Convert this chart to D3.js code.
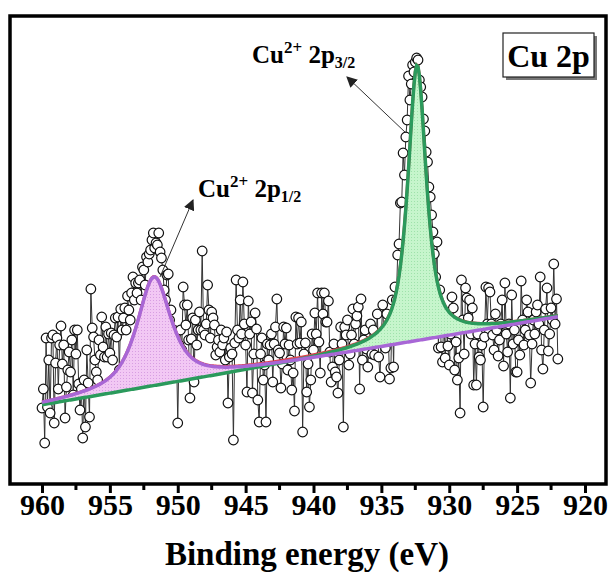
<!DOCTYPE html>
<html>
<head>
<meta charset="utf-8">
<script src="https://cdn.jsdelivr.net/npm/d3@7/dist/d3.min.js"></script>
<style>
  body { margin: 0; background: #fff; }
  text { font-family: "Liberation Serif", "Times New Roman", serif; font-weight: bold; }
</style>
</head>
<body>
<script>
const WIDTH = 611
const HEIGHT = 576

// energie de depart / pas de 0.1 eV
const startEnergy = 960
const stepEnergy = 0.1

// intensite (u.a.), 960.0 -> 922.0 eV
const intensity = [
  76, 95, 41, 146, 77, 124, 71, 146, 149, 61,
  121, 146, 95, 139, 158, 120, 139, 66, 97, 114,
  132, 112, 144, 89, 154, 130, 154, 100, 74, 95,
  46, 104, 57, 134, 101, 67, 195, 156, 147, 124,
  112, 104, 144, 129, 167, 137, 127, 157, 127, 150,
  131, 151, 124, 149, 166, 147, 167, 114, 175, 154,
  166, 176, 154, 188, 174, 164, 191, 207, 184, 201,
  191, 201, 204, 184, 217, 214, 199, 227, 222, 230,
  234, 244, 251, 236, 241, 239, 251, 232, 226, 214,
  194, 184, 209, 210, 164, 174, 144, 154, 129, 139,
  61, 139, 154, 134, 197, 179, 159, 179, 144, 86,
  145, 166, 102, 164, 139, 154, 172, 154, 233, 154,
  149, 160, 199, 174, 146, 172, 166, 159, 129, 137,
  144, 132, 154, 139, 146, 124, 152, 81, 127, 136,
  130, 44, 141, 204, 154, 146, 184, 150, 202, 160,
  139, 92, 183, 150, 162, 91, 130, 171, 155, 84,
  62, 130, 146, 104, 119, 62, 140, 124, 139, 150,
  102, 140, 157, 185, 134, 131, 96, 120, 157, 140,
  156, 114, 139, 124, 94, 111, 73, 167, 140, 166,
  141, 162, 52, 130, 141, 92, 120, 77, 104, 150,
  134, 171, 150, 191, 142, 111, 191, 170, 191, 162,
  162, 183, 132, 102, 117, 140, 112, 107, 91, 124,
  157, 140, 57, 157, 149, 164, 119, 130, 149, 175,
  140, 160, 168, 177, 95, 185, 124, 144, 154, 135,
  117, 140, 160, 130, 154, 129, 144, 170, 127, 107,
  150, 179, 140, 136, 170, 154, 105, 116, 184, 117,
  197, 184, 229, 240, 281, 282, 331, 309, 347, 364,
  408, 384, 400, 419, 412, 422, 426, 424, 404, 397,
  387, 365, 353, 332, 322, 297, 287, 269, 252, 230,
  207, 242, 136, 194, 137, 122, 170, 126, 160, 138,
  119, 150, 187, 176, 114, 142, 104, 126, 71, 204,
  164, 130, 196, 186, 166, 184, 150, 176, 99, 140,
  99, 150, 127, 124, 139, 77, 147, 197, 160, 196,
  192, 160, 149, 134, 170, 154, 128, 144, 160, 184,
  118, 201, 150, 132, 160, 86, 189, 140, 154, 112,
  112, 144, 129, 203, 164, 139, 154, 184, 172, 149,
  101, 140, 164, 150, 172, 179, 160, 207, 134, 115,
  154, 175, 196, 133, 150, 176, 164, 220, 160, 185,
  125
]

// fond lineaire : valeur a 960 et a 922
const baseEnergy = [960, 922]
const baseLevel = [79, 167]

// pics ajustes : 2p1/2 puis 2p3/2
const peakNames = ["2p1/2", "2p3/2"]
const peakCenter = [951.75, 932.37]
const peakHeight = [109, 276]
const peakFwhm = [3.0, 1.62]

const xTicks = [960, 955, 950, 945, 940, 935, 930, 925, 920]

const data = intensity.map((v, i) => ({ e: +(startEnergy - i * stepEnergy).toFixed(1), v: v }))

const x = d3.scaleLinear().domain([960, 920]).range([42, 585])
const y = d3.scaleLinear().domain([0, 468]).range([484, 16])

const svg = d3.select("body")
    .append("svg")
    .attr("width", WIDTH)
    .attr("height", HEIGHT)

// motif pointille des aires
const defs = svg.append("defs")
function motif(id, fond, point) {
    const p = defs.append("pattern")
        .attr("id", id)
        .attr("width", 3).attr("height", 3)
        .attr("patternUnits", "userSpaceOnUse")
    p.append("rect").attr("width", 3).attr("height", 3).attr("fill", fond)
    p.append("rect").attr("width", 1).attr("height", 1).attr("fill", point)
}
motif("rose", "#f2c8f4", "#d79ee2")
motif("vert", "#c6f5cc", "#9fe2ab")

defs.append("marker")
    .attr("id", "fleche")
    .attr("viewBox", "0 0 10 10")
    .attr("refX", 9).attr("refY", 5)
    .attr("markerWidth", 11).attr("markerHeight", 11)
    .attr("markerUnits", "userSpaceOnUse")
    .attr("orient", "auto")
    .append("path")
    .attr("d", "M0,0 L10,5 L0,10 z")
    .attr("fill", "#222")

function fond(e) {
    const t = (e - baseEnergy[0]) / (baseEnergy[1] - baseEnergy[0])
    return baseLevel[0] + t * (baseLevel[1] - baseLevel[0])
}
function pic(e, k) {
    const d = (e - peakCenter[k]) / (peakFwhm[k] / 2)
    const lor = 1 / (1 + d * d)
    const gau = Math.exp(-Math.LN2 * d * d)
    return peakHeight[k] * (0.8 * lor + 0.2 * gau)
}

// grille fine pour les courbes du modele
const grille = d3.range(9600, 9219, -1).map(d => d / 10)

// donnees : lignes + cercles
const gData = svg.append("g")
gData.append("path")
    .datum(data)
    .attr("fill", "none")
    .attr("stroke", "#333")
    .attr("stroke-width", 1)
    .attr("d", d3.line().x(d => x(d.e)).y(d => y(d.v)))

gData.selectAll("circle")
    .data(data)
    .enter()
    .append("circle")
    .attr("cx", d => x(d.e))
    .attr("cy", d => y(d.v))
    .attr("r", 4.8)
    .attr("fill", "#fff")
    .attr("stroke", "#111")
    .attr("stroke-width", 1.2)

// aires des pics
const gFit = svg.append("g")
const couleurs = ["#a867d6", "#2b9a5c"]
const motifs = ["url(#rose)", "url(#vert)"]

;[0, 1].forEach(k => {
    gFit.append("path")
        .datum(grille)
        .attr("fill", motifs[k])
        .attr("stroke", "none")
        .attr("d", d3.area()
            .x(e => x(e))
            .y0(e => y(fond(e)))
            .y1(e => y(fond(e) + pic(e, k))))
})

// enveloppe (rouge)
gFit.append("path")
    .datum(grille)
    .attr("fill", "none")
    .attr("stroke", "#e0404c")
    .attr("stroke-width", 3)
    .attr("d", d3.line().x(e => x(e)).y(e => y(fond(e) + pic(e, 0) + pic(e, 1))))

// courbes de chaque pic (vert puis violet)
;[1, 0].forEach(k => {
    gFit.append("path")
        .datum(grille)
        .attr("fill", "none")
        .attr("stroke", couleurs[k])
        .attr("stroke-width", 3.5)
        .attr("d", d3.line().x(e => x(e)).y(e => y(fond(e) + pic(e, k))))
})

// cadre
svg.append("rect")
    .attr("x", 10).attr("y", 16)
    .attr("width", 596).attr("height", 468)
    .attr("fill", "none")
    .attr("stroke", "#000")
    .attr("stroke-width", 3.5)

// axe x
const axe = svg.append("g")
    .attr("transform", "translate(0,484)")
    .call(d3.axisBottom(x).tickValues(xTicks).tickSize(9).tickFormat(d3.format("d")))
axe.select(".domain").remove()
axe.selectAll(".tick line").attr("stroke", "#000").attr("stroke-width", 3)
axe.selectAll(".tick text")
    .attr("y", 31).attr("dy", 0)
    .attr("fill", "#000")
    .style("font-size", "30px")
    .style("font-family", "'Liberation Serif', serif")
    .style("font-weight", "bold")

svg.append("g")
    .selectAll("line")
    .data(xTicks.slice(0, -1).map(t => t - 2.5))
    .enter()
    .append("line")
    .attr("x1", d => x(d)).attr("x2", d => x(d))
    .attr("y1", 484).attr("y2", 490)
    .attr("stroke", "#000").attr("stroke-width", 3)

svg.append("text")
    .text("Binding energy (eV)")
    .attr("x", 307).attr("y", 565)
    .attr("text-anchor", "middle")
    .style("font-size", "33px")

// etiquette Cu 2p
svg.append("rect")
    .attr("x", 506).attr("y", 36).attr("width", 91).attr("height", 44)
    .attr("fill", "#777")
svg.append("rect")
    .attr("x", 503).attr("y", 33).attr("width", 91).attr("height", 44)
    .attr("fill", "#fff").attr("stroke", "#222").attr("stroke-width", 1.2)
svg.append("text")
    .text("Cu 2p")
    .attr("x", 548.5).attr("y", 67)
    .attr("text-anchor", "middle")
    .style("font-size", "32px")

// annotations
function annot(xx, yy, indice) {
    const t = svg.append("text").attr("x", xx).attr("y", yy).style("font-size", "25px")
    t.append("tspan").text("Cu")
    t.append("tspan").text("2+").style("font-size", "17px").attr("dy", -10)
    t.append("tspan").text(" 2p").attr("dy", 10)
    t.append("tspan").text(indice).style("font-size", "16px").attr("dy", 5)
}
annot(252, 63, "3/2")
annot(198, 197, "1/2")

svg.append("line")
    .attr("x1", 406).attr("y1", 133).attr("x2", 347).attr("y2", 77)
    .attr("stroke", "#333").attr("stroke-width", 1)
    .attr("marker-end", "url(#fleche)")
svg.append("line")
    .attr("x1", 160).attr("y1", 277).attr("x2", 193).attr("y2", 200)
    .attr("stroke", "#333").attr("stroke-width", 1)
    .attr("marker-end", "url(#fleche)")
</script>
</body>
</html>
